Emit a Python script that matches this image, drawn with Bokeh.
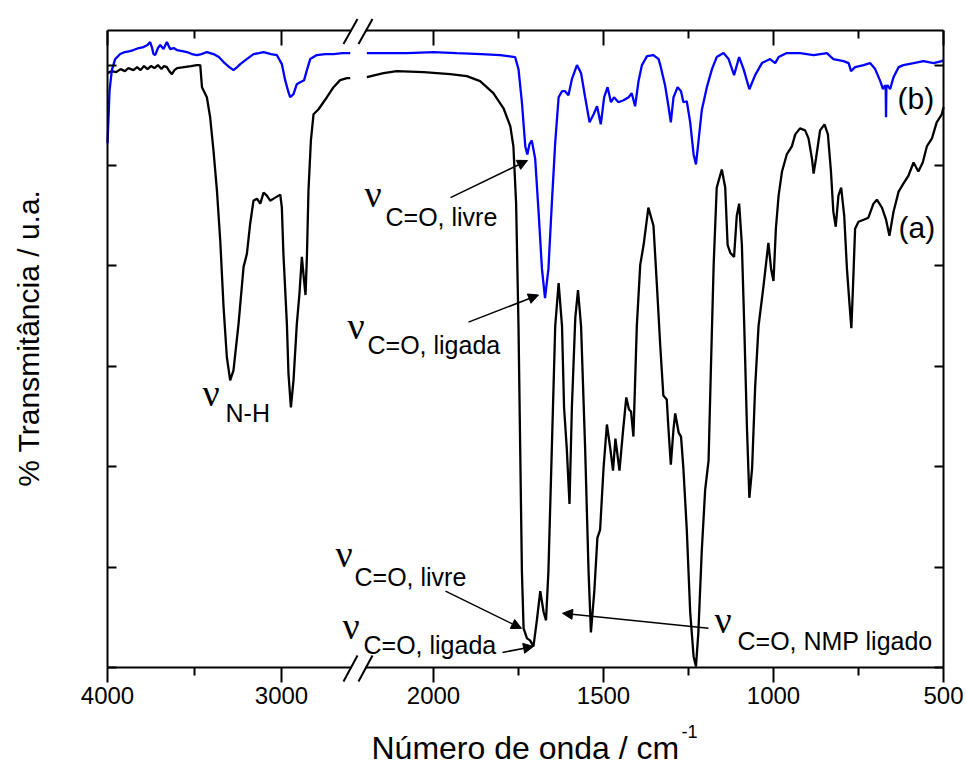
import numpy as np
from bokeh.plotting import figure
from bokeh.models import (Range1d, LinearAxis, FixedTicker, Label, Arrow, NormalHead,
                          CustomJSTickFormatter)
from bokeh.embed import file_html
from bokeh.resources import INLINE

# ---------------- data (wavenumber / cm-1, transmittance in arbitrary units) -------------
# spectrum (a) - black, left part (4000 - 2600)
a_left_wn = [4000, 3975, 3950, 3925, 3900, 3880, 3851, 3830, 3810, 3790, 3770, 3750, 3730, 3710,
             3690, 3675, 3659, 3645, 3630, 3615, 3600, 3560, 3520, 3486, 3467, 3457, 3429, 3410,
             3391, 3371, 3352, 3333, 3314, 3295, 3276, 3247, 3218, 3199, 3180, 3161, 3141, 3122,
             3103, 3084, 3065, 3036, 3007, 2998, 2989, 2969, 2960, 2946, 2931, 2912, 2897, 2883,
             2870, 2862, 2854, 2845, 2831, 2816, 2787, 2739, 2701, 2663, 2624, 2605]
a_left_t = [59.2, 59.4, 59.3, 59.6, 59.4, 59.7, 59.5, 59.8, 59.5, 59.9, 59.6, 59.9, 59.7, 60.0,
            59.6, 59.9, 59.8, 59.4, 59.1, 59.5, 59.7, 59.8, 59.9, 60.0, 60.0, 57.8, 56.8, 54.8,
            51.5, 47.5, 42.5, 35.9, 30.9, 28.6, 29.6, 34.2, 39.9, 41.2, 44.2, 46.5, 46.7, 46.2,
            47.3, 47.0, 46.5, 46.8, 47.1, 45.8, 41.2, 34.2, 29.3, 25.9, 28.6, 34.2, 37.2, 40.9,
            38.5, 37.1, 40.9, 47.5, 52.5, 55.1, 55.6, 56.8, 57.8, 58.5, 58.7, 58.7]

# spectrum (a) - black, right part (2200 - 500)
a_right_wn = [2196, 2147, 2108, 2029, 1951, 1902, 1863, 1824, 1794, 1774, 1765, 1757, 1750, 1745,
              1740, 1735, 1725, 1716, 1706, 1696, 1686, 1676, 1669, 1662, 1652, 1642, 1632, 1622,
              1616, 1608, 1600, 1593, 1583, 1575, 1566, 1554, 1544, 1537, 1527, 1518, 1510, 1500,
              1490, 1480, 1472, 1465, 1453, 1443, 1433, 1425, 1419, 1412, 1402, 1392, 1382, 1368,
              1353, 1343, 1333, 1324, 1314, 1309, 1302, 1294, 1289, 1279, 1272, 1265, 1255, 1245,
              1235, 1228, 1221, 1211, 1201, 1191, 1184, 1176, 1167, 1152, 1142, 1135, 1127, 1116,
              1108, 1101, 1093, 1086, 1078, 1071, 1063, 1054, 1044, 1029, 1015, 1007, 1000, 993,
              985, 975, 961, 946, 936, 922, 907, 897, 887, 882, 875, 863, 850, 840, 831, 824, 817,
              809, 801, 792, 784, 776, 771, 766, 760, 750, 735, 721, 706, 696, 681, 669, 659, 647,
              632, 618, 603, 588, 574, 561, 549, 534, 520, 505, 500]
a_right_t = [58.8, 59.2, 59.4, 59.3, 59.1, 58.9, 58.4, 57.2, 55.7, 53.9, 51.9, 46.2, 34.0, 21.8,
             9.6, 3.9, 2.9, 2.7, 2.1, 4.7, 7.6, 5.5, 4.7, 9.6, 21.8, 34.0, 38.3, 34.0,
             25.9, 21.8, 16.3, 25.9, 34.8, 37.6, 34.0, 21.8, 9.6, 3.5, 7.6, 12.9, 13.7, 19.8,
             24.2, 21.8, 19.6, 22.8, 19.6, 23.4, 26.9, 25.7, 25.5, 23.0, 34.0, 40.1, 42.1, 45.8,
             44.0, 38.1, 32.0, 27.1, 26.7, 23.8, 20.2, 23.8, 25.3, 23.4, 23.0, 19.8, 13.7, 5.5,
             1.1, 0.1, 3.5, 11.6, 17.7, 20.6, 29.9, 40.1, 47.8, 49.6, 47.8, 42.1, 41.3, 40.9,
             45.0, 46.2, 42.1, 34.0, 23.8, 16.9, 19.8, 27.9, 34.0, 38.1, 42.3, 39.7, 38.5, 43.7,
             47.0, 49.4, 51.1, 51.9, 53.1, 53.7, 53.5, 52.7, 50.7, 49.2, 50.7, 53.5, 54.1, 53.1,
             49.4, 45.4, 43.9, 47.0, 47.8, 45.0, 39.7, 36.0, 33.8, 38.1, 43.7, 44.4, 44.6, 44.8,
             46.2, 46.6, 45.8, 44.6, 43.0, 45.4, 47.4, 48.2, 49.0, 50.3, 49.4, 50.3, 51.9, 52.7,
             54.3, 55.1, 55.8]

# spectrum (b) - blue, left part
b_left_wn = [4000, 3988, 3975, 3956, 3927, 3900, 3870, 3851, 3820, 3793, 3770, 3755, 3745, 3736,
             3726, 3710, 3697, 3678, 3659, 3640, 3620, 3601, 3570, 3544, 3515, 3486, 3460, 3429,
             3410, 3391, 3360, 3333, 3300, 3276, 3255, 3237, 3200, 3161, 3130, 3103, 3060, 3027,
             2998, 2979, 2960, 2950, 2931, 2912, 2893, 2870, 2854, 2835, 2797, 2750, 2701, 2650,
             2605]
b_left_t = [52.2, 57.5, 59.5, 60.6, 61.1, 61.3, 61.4, 61.5, 61.7, 61.8, 62.0, 62.3, 61.8, 61.1,
            61.0, 61.7, 62.0, 61.6, 62.3, 61.6, 61.7, 61.5, 61.4, 61.3, 61.1, 61.0, 61.1, 61.3,
            61.2, 61.1, 60.8, 60.3, 59.8, 59.5, 59.8, 60.1, 60.6, 61.1, 61.2, 61.3, 61.1, 61.0,
            60.1, 58.5, 57.3, 56.8, 57.1, 58.1, 58.3, 58.5, 59.5, 60.6, 61.0, 61.1, 61.1, 61.2,
            61.2]

# spectrum (b) - blue, right part
b_right_wn = [2196, 2150, 2078, 2000, 1931, 1860, 1804, 1760, 1750, 1740, 1730, 1724, 1718, 1711,
              1701, 1691, 1681, 1672, 1662, 1652, 1642, 1632, 1622, 1613, 1603, 1593, 1578, 1566,
              1554, 1541, 1529, 1519, 1508, 1498, 1488, 1478, 1469, 1456, 1441, 1426, 1417, 1407,
              1397, 1387, 1372, 1353, 1338, 1333, 1319, 1309, 1302, 1294, 1282, 1272, 1265, 1255,
              1245, 1235, 1228, 1221, 1211, 1196, 1181, 1167, 1147, 1132, 1116, 1101, 1088, 1071,
              1054, 1034, 1010, 995, 985, 961, 922, 882, 843, 824, 794, 779, 772, 760, 735, 716,
              701, 686, 678, 672, 670, 669, 668, 665, 657, 647, 632, 618, 588, 559, 529, 505, 500]
b_right_t = [61.2, 61.2, 61.2, 61.3, 61.2, 61.1, 61.0, 60.8, 59.6, 56.3, 51.9, 51.1, 52.1, 52.5,
             50.7, 45.4, 39.7, 36.8, 39.7, 46.2, 52.3, 56.8, 57.4, 57.4, 57.0, 58.6, 60.0, 59.2,
             56.8, 54.3, 55.1, 55.9, 54.1, 56.8, 57.8, 56.3, 56.8, 56.3, 56.5, 56.8, 57.2, 55.9,
             58.4, 60.0, 60.9, 61.0, 60.6, 60.0, 58.0, 55.9, 54.3, 56.8, 57.8, 57.4, 56.3, 56.4,
             54.3, 51.1, 50.1, 52.3, 55.5, 57.8, 59.6, 60.8, 61.2, 60.6, 59.0, 60.8, 59.6, 57.6,
             59.0, 60.2, 60.6, 60.2, 60.8, 61.2, 61.2, 61.0, 61.2, 60.6, 60.4, 60.2, 59.4, 59.8,
             60.0, 60.2, 59.6, 58.4, 57.6, 58.0, 57.8, 54.8, 57.8, 58.0, 57.6, 58.8, 59.8, 60.0,
             60.2, 60.4, 60.2, 60.4, 60.5]

tick_wn = [4000, 3000, 2000, 1500, 1000, 500]
minor_wn = [3500, 1750, 1250, 750]
y_ticks = [0, 10, 20, 30, 40, 50, 60]

# ---------------- broken axis mapping ----------------
LEFT_SCALE = 0.174     # px per cm-1 on the 4000-2600 segment
RIGHT_SCALE = 0.34     # px per cm-1 on the 2200-500 segment
RIGHT_START = 258.0
X_END = 836.0          # u of 500 cm-1
Y_TOP = 63.45          # top of the axes box


def to_u(wn):
    wn = np.asarray(wn, dtype=float)
    return np.where(wn >= 2400, (4000 - wn) * LEFT_SCALE, RIGHT_START + (2200 - wn) * RIGHT_SCALE)


x_ticks = [int(round(v)) for v in to_u(tick_wn)]
x_minor = [int(round(v)) for v in to_u(minor_wn)]
overrides = {t: str(w) for t, w in zip(x_ticks, tick_wn)}

SANS = "Liberation Sans"
SERIF = "Liberation Serif"

# frame = whole canvas; axes are placed at fixed locations inside it
p = figure(width=966, height=769, output_backend="svg", toolbar_location=None,
           x_range=Range1d(-107, 859), y_range=Range1d(-10.159, 66.434),
           min_border=0, min_border_left=0, min_border_right=0, min_border_top=0,
           min_border_bottom=0, x_axis_location=None, y_axis_location=None)
p.outline_line_color = None
p.xgrid.visible = False
p.ygrid.visible = False
p.background_fill_color = "white"
p.border_fill_color = "white"

blank = CustomJSTickFormatter(code="return ''")

bottom = LinearAxis(ticker=FixedTicker(ticks=x_ticks, minor_ticks=x_minor),
                    major_label_overrides=overrides, fixed_location=0, bounds=(0, X_END))
top = LinearAxis(ticker=FixedTicker(ticks=x_ticks, minor_ticks=x_minor), formatter=blank,
                 fixed_location=Y_TOP, bounds=(0, X_END))
left = LinearAxis(ticker=FixedTicker(ticks=y_ticks, minor_ticks=[]), formatter=blank,
                  fixed_location=0, bounds=(0, Y_TOP))
right = LinearAxis(ticker=FixedTicker(ticks=y_ticks, minor_ticks=[]), formatter=blank,
                   fixed_location=X_END, bounds=(0, Y_TOP))

for ax in (bottom, top, left, right):
    ax.axis_line_width = 2
    ax.axis_line_color = "black"
    ax.major_tick_line_width = 2
    ax.minor_tick_line_width = 2
    ax.major_tick_line_color = "black"
    ax.minor_tick_line_color = "black"

bottom.major_tick_out = 15
bottom.major_tick_in = 0
bottom.minor_tick_out = 8
bottom.minor_tick_in = 0
bottom.major_label_text_font = SANS
bottom.major_label_text_font_size = "24px"
bottom.major_label_text_color = "black"
bottom.major_label_standoff = 4

top.major_tick_in = 15
top.major_tick_out = 0
top.minor_tick_in = 8
top.minor_tick_out = 0

for ax in (left, right):
    ax.major_tick_in = 9
    ax.major_tick_out = 0
    ax.minor_tick_in = 0
    ax.minor_tick_out = 0

for ax in (top, left, right):
    ax.major_label_text_font_size = "0px"
    ax.major_label_standoff = 0

p.add_layout(bottom, "below")
p.add_layout(top, "above")
p.add_layout(left, "left")
p.add_layout(right, "right")

# ---------------- spectra ----------------
p.line(to_u(a_left_wn), a_left_t, line_color="black", line_width=2.3)
p.line(to_u(a_right_wn), a_right_t, line_color="black", line_width=2.3)
p.line(to_u(b_left_wn), b_left_t, line_color="#0000ff", line_width=2.3)
p.line(to_u(b_right_wn), b_right_t, line_color="#0000ff", line_width=2.3)

# ---------------- axis break marks ----------------
for yb in (0, Y_TOP):
    p.add_layout(Arrow(x_start=244, y_start=yb, x_end=258, y_end=yb, end=None,
                       line_color="white", line_width=6))
for (y0, y1) in ((-1.4, 1.2), (62.1, 64.6)):
    for xs in (236, 251):
        p.add_layout(Arrow(x_start=xs, y_start=y0, x_end=xs + 14, y_end=y1, end=None,
                           line_color="black", line_width=2))


# ---------------- annotations ----------------
def nu_label(xn, yn, xs, ys, sub):
    p.add_layout(Label(x=xn, y=yn + 1.25, text="ν", text_font=SERIF, text_font_size="38px",
                       text_color="black", text_baseline="alphabetic", text_align="left"))
    p.add_layout(Label(x=xs, y=ys + 0.95, text=sub, text_font=SANS, text_font_size="25px",
                       text_color="black", text_baseline="alphabetic", text_align="left"))


nu_label(95, 26.1, 118, 24.4, "N-H")
nu_label(257, 45.9, 278, 43.9, "C=O, livre")
nu_label(240, 32.8, 260, 31.2, "C=O, ligada")
nu_label(228, 10.1, 247, 8.1, "C=O, livre")
nu_label(235, 2.9, 256, 1.3, "C=O, ligada")
nu_label(607, 3.5, 630, 1.7, "C=O, NMP ligado")


def arrow(x0, y0, x1, y1):
    p.add_layout(Arrow(x_start=x0, y_start=y0, x_end=x1, y_end=y1, line_width=1.5,
                       line_color="black",
                       end=NormalHead(size=10, fill_color="black", line_color="black",
                                      line_width=1)))


arrow(343, 46.8, 420, 50.5)
arrow(361, 34.4, 431, 37.1)
arrow(338, 7.6, 414, 3.9)
arrow(395, 1.5, 426, 2.1)
arrow(601, 3.9, 455, 5.4)

p.add_layout(Label(x=791, y=43.8, text="(a)", text_font=SANS, text_font_size="30px",
                   text_color="black", text_baseline="middle", text_align="left"))
p.add_layout(Label(x=790, y=56.7, text="(b)", text_font=SANS, text_font_size="30px",
                   text_color="black", text_baseline="middle", text_align="left"))

# axis titles
p.add_layout(Label(x=264, y=-8.0, text="Número de onda / cm", text_font=SANS,
                   text_font_size="32px", text_color="black",
                   text_baseline="alphabetic", text_align="left"))
p.add_layout(Label(x=574, y=-6.4, text="-1", text_font=SANS, text_font_size="18px",
                   text_color="black", text_baseline="alphabetic", text_align="left"))
p.add_layout(Label(x=-79, y=32.8, text="% Transmitância / u.a.", text_font=SANS,
                   text_font_size="30px", text_color="black", angle=np.pi / 2,
                   text_baseline="middle", text_align="center"))

open("out.html", "w").write(file_html(p, INLINE))
